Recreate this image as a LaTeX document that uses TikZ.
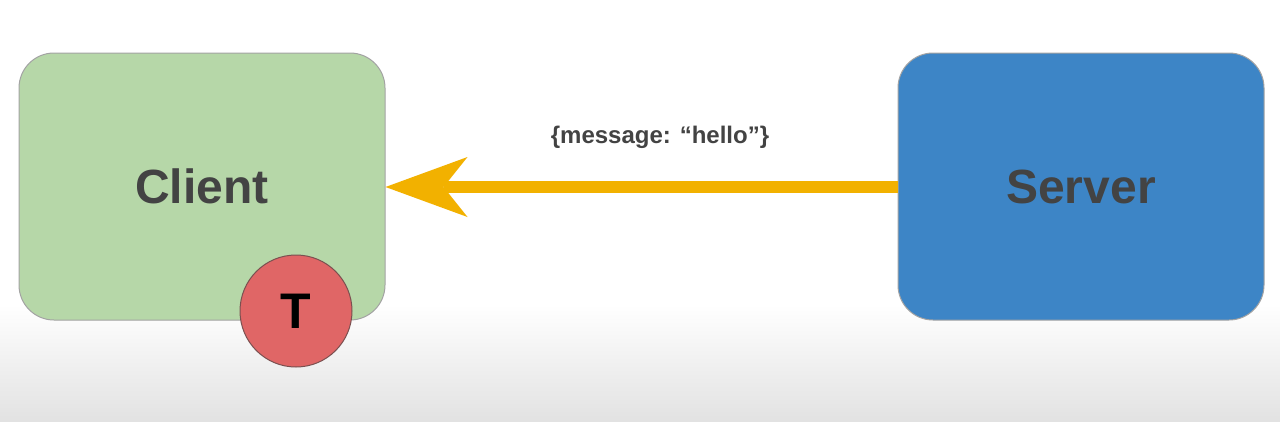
\documentclass[tikz,border=0pt]{standalone}
\usepackage{fontspec}
\setmainfont{Liberation Sans}
\usetikzlibrary{arrows.meta}
\definecolor{clientfill}{HTML}{B6D7A8}
\definecolor{serverfill}{HTML}{3D85C6}
\definecolor{boxline}{HTML}{A3A3A3}
\definecolor{txtgray}{HTML}{434343}
\definecolor{arrowyellow}{HTML}{F2B100}
\definecolor{tokenfill}{HTML}{E06666}
\definecolor{tokenline}{HTML}{7A5050}
\definecolor{bgbottom}{HTML}{E2E2E2}
\tikzset{
  box/.style={draw=boxline, line width=1pt, rounded corners=35pt,
    minimum width=366pt, minimum height=267pt, inner sep=0pt,
    font=\fontsize{48}{56}\selectfont\bfseries, text=txtgray},
  token/.style={circle, draw=tokenline, line width=1pt, fill=tokenfill,
    minimum size=112pt, inner sep=0pt, font=\fontsize{50}{58}\selectfont\bfseries},
  msg/.style={draw=arrowyellow, line width=12pt,
    -{Stealth[length=82pt, width=60pt, inset=24pt, line width=0pt]}},
  msglabel/.style={font=\fontsize{24}{28}\selectfont\bfseries, text=txtgray}
}
\begin{document}
\begin{tikzpicture}[x=1pt, y=-1pt]
  \useasboundingbox (0,0) rectangle (1280,421);
  \fill[white] (0,0) rectangle (1280,421);
  \shade[top color=white, bottom color=bgbottom] (0,305) rectangle (1280,421);
  \node[box, fill=clientfill] (client) at (202,186.5) {Client};
  \node[box, fill=serverfill] (server) at (1081,186.5) {Server};
  \node[token] (tok) at (296,311) {T};
  \draw[msg] (server.west |- 0,187) -- (client.east |- 0,187);
  \node[msglabel] (lbl) at (660,137) {\{message: “hello”\}};
\end{tikzpicture}
\end{document}
